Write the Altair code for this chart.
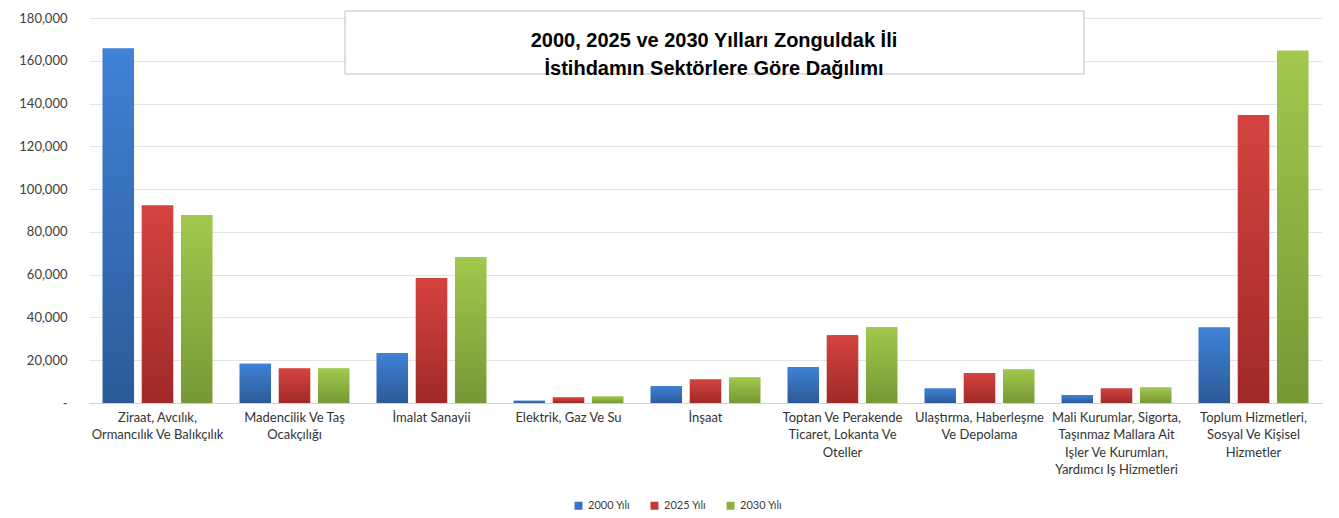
import altair as alt
import pandas as pd

categories = [
    "Ziraat, Avcılık,|Ormancılık Ve Balıkçılık",
    "Madencilik Ve Taş|Ocakçılığı",
    "İmalat Sanayii",
    "Elektrik, Gaz Ve Su",
    "İnşaat",
    "Toptan Ve Perakende|Ticaret, Lokanta Ve|Oteller",
    "Ulaştırma, Haberleşme|Ve Depolama",
    "Mali Kurumlar, Sigorta,|Taşınmaz Mallara Ait|Işler Ve Kurumları,|Yardımcı Iş Hizmetleri",
    "Toplum Hizmetleri,|Sosyal Ve Kişisel|Hizmetler",
]
series = ["2000 Yılı", "2025 Yılı", "2030 Yılı"]
y2000 = [165700, 18400, 23400, 1100, 7900, 16800, 6800, 3700, 35300]
y2025 = [92300, 16100, 58500, 2600, 11000, 31700, 14000, 6800, 134600]
y2030 = [87900, 16100, 68200, 3000, 11900, 35400, 15700, 7200, 164700]
y_ticks = [0, 20000, 40000, 60000, 80000, 100000, 120000, 140000, 160000, 180000]
title_lines = ["2000, 2025 ve 2030 Yılları Zonguldak İli", "İstihdamın Sektörlere Göre Dağılımı"]

solid = ["#3a73c3", "#c23a38", "#8fb23f"]
grads = [("#3f82d6", "#2c5a98"), ("#d5433f", "#9f2a28"), ("#a2c84c", "#769836")]

rows = []
for s, vals in zip(series, [y2000, y2025, y2030]):
    for c, v in zip(categories, vals):
        rows.append({"category": c, "series": s, "value": v})
df = pd.DataFrame(rows)

FONT = "Lato"

base = alt.Chart(df).encode(
    x=alt.X(
        "category:N",
        sort=categories,
        scale=alt.Scale(domain=categories, paddingInner=0.2, paddingOuter=0.1),
        axis=alt.Axis(
            title=None,
            labelExpr="split(datum.label, '|')",
            labelAngle=0,
            labelFont=FONT,
            labelFontSize=13,
            labelLineHeight=17.5,
            labelColor="#333333",
            labelLimit=0,
            labelPadding=8,
            ticks=False,
            domainColor="#c5d3e3",
        ),
    ),
    xOffset=alt.XOffset(
        "series:N", sort=series, scale=alt.Scale(domain=series, paddingInner=0.2, paddingOuter=0)
    ),
    y=alt.Y(
        "value:Q",
        scale=alt.Scale(domain=[0, 180000], nice=False),
        axis=alt.Axis(
            title=None,
            values=y_ticks,
            labelExpr="datum.value == 0 ? '-' : format(datum.value, ',')",
            labelFont=FONT,
            labelFontSize=13,
            labelColor="#404040",
            labelPadding=22,
            ticks=False,
            domain=False,
            gridColor="#dde6ef",
            minExtent=76,
            maxExtent=76,
        ),
    ),
)

bars_solid = base.mark_bar().encode(
    color=alt.Color(
        "series:N",
        scale=alt.Scale(domain=series, range=solid),
        legend=alt.Legend(
            title=None,
            orient="none",
            legendX=484,
            legendY=482,
            direction="horizontal",
            symbolType="square",
            symbolSize=64,
            symbolStrokeWidth=0,
            labelFont=FONT,
            labelFontSize=11,
            labelColor="#404040",
            columnPadding=18,
        ),
    )
)

layers = [bars_solid]
for s, (top, bottom) in zip(series, grads):
    g = {
        "gradient": "linear",
        "x1": 0, "y1": 0, "x2": 0, "y2": 1,
        "stops": [{"offset": 0, "color": top}, {"offset": 1, "color": bottom}],
    }
    layers.append(base.transform_filter(alt.datum.series == s).mark_bar(fill=g))

one = pd.DataFrame({"k": [0]})
box = alt.Chart(one).mark_rect(fill="white", stroke="#bfbfbf", strokeWidth=1).encode(
    x=alt.value(256), x2=alt.value(995), y=alt.value(-7), y2=alt.value(56)
)
title = alt.Chart(one).mark_text(
    text=title_lines,
    font="Liberation Sans",
    fontSize=20,
    fontWeight="bold",
    lineHeight=28,
    color="#000000",
    align="center",
    baseline="middle",
).encode(x=alt.value(625), y=alt.value(23))

chart = alt.layer(*layers, box, title).properties(
    width=1233, height=385, background="white",
    padding={"left": 5, "top": 2, "right": 5, "bottom": 5},
).configure_view(stroke=None)

chart.save("out.html", embed_options={"renderer": "svg", "actions": False})
